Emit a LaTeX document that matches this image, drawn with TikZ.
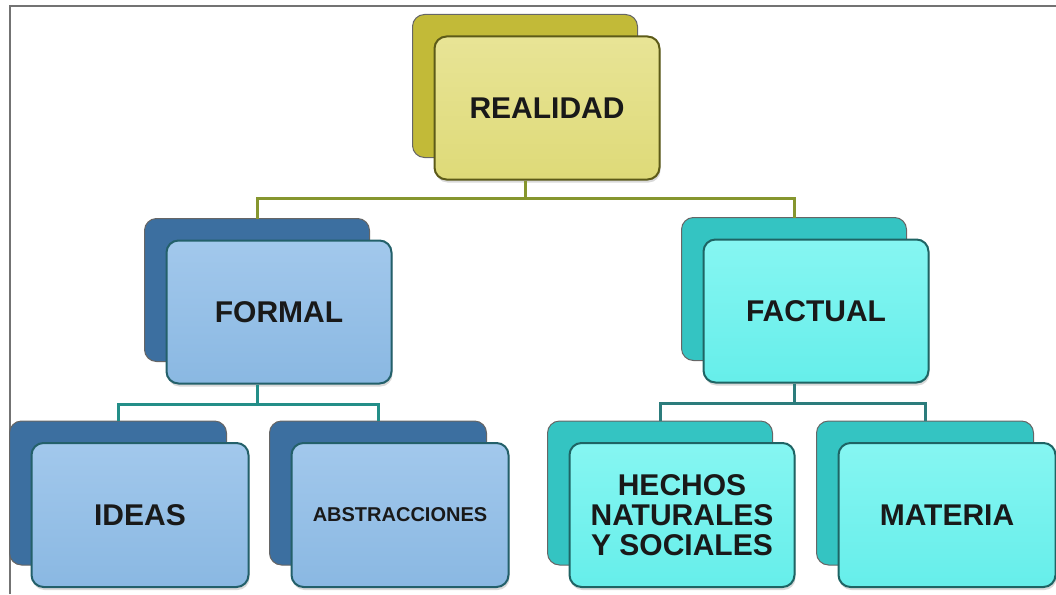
\documentclass[tikz,border=0pt]{standalone}
\usepackage{fontspec}
\setmainfont{Liberation Sans}
\usetikzlibrary{shadows}

\definecolor{yelfront}{HTML}{DEDA78}
\definecolor{yeltop}{HTML}{E8E496}
\definecolor{yelback}{HTML}{C2BA38}
\definecolor{yelline}{HTML}{5C5A18}
\definecolor{bluefront}{HTML}{8AB8E2}
\definecolor{bluetop}{HTML}{A2C8EC}
\definecolor{blueback}{HTML}{3C6FA0}
\definecolor{blueline}{HTML}{23606A}
\definecolor{cyanfront}{HTML}{66EEEA}
\definecolor{cyantop}{HTML}{86F6F2}
\definecolor{cyanback}{HTML}{34C4C2}
\definecolor{cyanline}{HTML}{1E6464}
\definecolor{barone}{HTML}{86962E}
\definecolor{bartwo}{HTML}{238E88}
\definecolor{barthree}{HTML}{2C7C7C}

\begin{document}
\begin{tikzpicture}[x=1pt, y=-1pt,
  box/.style={draw, rounded corners=12pt, line width=2pt, align=center,
    minimum width=225pt, minimum height=143pt, text=black!90,
    font=\fontsize{30}{30}\selectfont\bfseries},
  smallbox/.style={box, minimum width=217pt, minimum height=144pt},
  backed/.style={general shadow={shadow xshift=-22pt, shadow yshift=22pt,
      fill=#1, draw=black!60, line width=1pt},
    drop shadow={shadow xshift=1pt, shadow yshift=-3pt, opacity=0.3, fill=black!50}},
  yelbox/.style={draw=yelline, top color=yeltop, bottom color=yelfront, backed=yelback},
  bluebox/.style={draw=blueline, top color=bluetop, bottom color=bluefront, backed=blueback},
  cyanbox/.style={draw=cyanline, top color=cyantop, bottom color=cyanfront, backed=cyanback},
  link/.style={line width=3pt}]
  \useasboundingbox (0,0) rectangle (1056,594);
  \draw[line width=2pt, black!55] (10,594) -- (10,6) -- (1056,6);

  % top
  \node[box, yelbox] (realidad) at (547,108) {REALIDAD};
  % second row
  \node[box, bluebox] (formal) at (279,312) {FORMAL};
  \node[box, cyanbox] (factual) at (816,311) {FACTUAL};
  % bottom row
  \node[smallbox, bluebox] (ideas) at (140,515) {IDEAS};
  \node[smallbox, bluebox, font=\fontsize{20}{20}\selectfont\bfseries] (abstr) at (400,515) {ABSTRACCIONES};
  \node[smallbox, cyanbox, minimum width=225pt] (hechos) at (682,515) {HECHOS\\NATURALES\\Y SOCIALES};
  \node[smallbox, cyanbox] (materia) at (947,515) {MATERIA};

  \draw[link, barone] ([xshift=-22pt]realidad.south) -- ++(0,18) -| ([shift={(-22pt,21pt)}]formal.north);
  \draw[link, barone] ([xshift=-22pt]realidad.south) -- ++(0,18) -| ([shift={(-22pt,21pt)}]factual.north);
  \draw[link, bartwo] ([xshift=-22pt]formal.south) -- ++(0,20) -| ([shift={(-22pt,21pt)}]ideas.north);
  \draw[link, bartwo] ([xshift=-22pt]formal.south) -- ++(0,20) -| ([shift={(-22pt,21pt)}]abstr.north);
  \draw[link, barthree] ([xshift=-22pt]factual.south) -- ++(0,20) -| ([shift={(-22pt,21pt)}]hechos.north);
  \draw[link, barthree] ([xshift=-22pt]factual.south) -- ++(0,20) -| ([shift={(-22pt,21pt)}]materia.north);
\end{tikzpicture}
\end{document}
